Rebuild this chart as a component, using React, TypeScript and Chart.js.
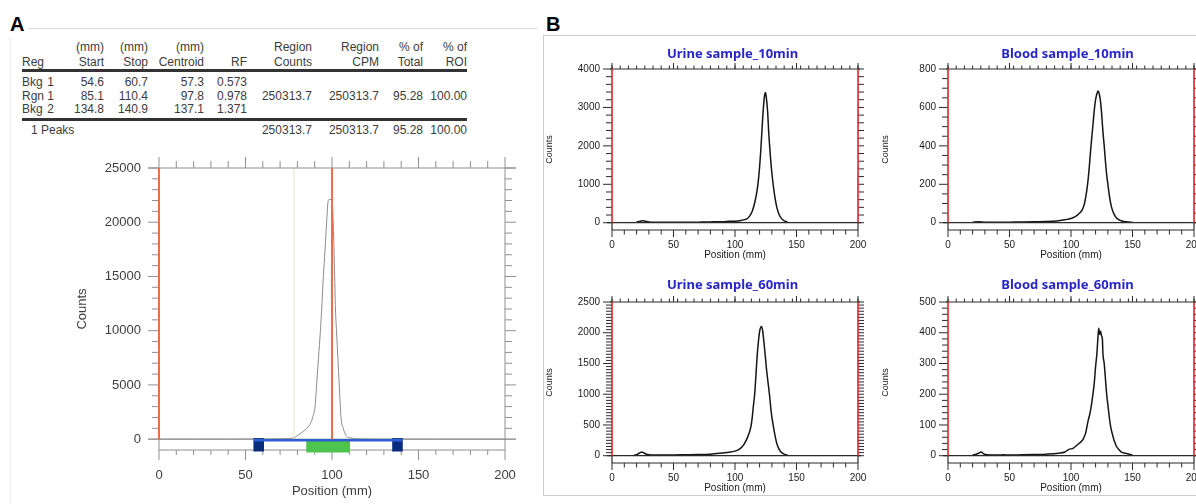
import React, { useEffect, useRef } from 'react';
import { Chart, registerables } from 'chart.js';

Chart.register(...registerables);

// ---------------- Panel A : ROI report table ----------------
const headerTop = ['', '(mm)', '(mm)', '(mm)', '', 'Region', 'Region', '% of', '% of'];
const headerBottom = ['Reg', 'Start', 'Stop', 'Centroid', 'RF', 'Counts', 'CPM', 'Total', 'ROI'];
const roiNames = ['Bkg', 'Rgn', 'Bkg'];
const roiIndex = ['1', '1', '2'];
const roiStart = [54.6, 85.1, 134.8];
const roiStop = [60.7, 110.4, 140.9];
const roiCentroid = [57.3, 97.8, 137.1];
const roiRF = [0.573, 0.978, 1.371];
const roiCounts = ['', '250313.7', ''];
const roiCPM = ['', '250313.7', ''];
const roiPctTotal = ['', '95.28', ''];
const roiPctROI = ['', '100.00', ''];
const peaksLabel = '1 Peaks';
const peaksTotals = ['250313.7', '250313.7', '95.28', '100.00'];

// ---------------- Panel A : radio-TLC scan ----------------
const posA = [0, 20, 40, 55, 65, 72, 77.5, 81.5, 85.4, 87.7, 89, 90.2, 91.1, 92.2, 93.3, 94.2, 95, 96, 96.9, 97.7, 98.5, 99.5, 100.2, 100.8, 101.4, 102, 102.6, 103.4, 104.2, 105.2, 106.5, 108, 110, 113, 117, 125, 140, 170, 200];
const cntA = [0, 0, 5, 10, 20, 50, 100, 500, 1000, 1500, 2100, 3000, 5000, 7500, 10000, 12500, 15000, 17500, 20000, 21900, 22100, 22100, 21600, 19500, 16000, 12000, 10000, 7500, 5000, 2000, 1000, 350, 150, 60, 20, 8, 3, 0, 0];
const yTicksA = [0, 5000, 10000, 15000, 20000, 25000];

// ---------------- Panel B : four scans ----------------
const posU10 = [20, 22, 25, 27, 30, 35, 40, 45, 50, 60, 70, 80, 85, 90, 95, 100, 105, 108, 110, 112, 114, 116, 118, 119, 120, 121, 122, 123, 124, 124.8, 125.5, 126.5, 127.5, 128.5, 129.5, 131, 132.5, 134, 136, 138, 140, 142, 143];
const cntU10 = [20, 30, 50, 40, 20, 10, 15, 10, 12, 10, 15, 20, 25, 25, 35, 40, 60, 80, 110, 180, 300, 520, 850, 1100, 1450, 1900, 2450, 2950, 3300, 3390, 3250, 2900, 2300, 1850, 1450, 1000, 650, 400, 200, 100, 50, 25, 5];
const yTicksU10 = [0, 1000, 2000, 3000, 4000];

const posB10 = [20, 25, 30, 40, 50, 60, 70, 80, 90, 95, 100, 103, 105, 107, 109, 110, 111, 112, 113, 114, 115, 116, 117, 118, 119, 120, 121, 122, 123, 124, 125, 126, 127, 128, 129, 130, 131, 132, 133, 134, 135, 137, 140, 143, 146, 150];
const cntB10 = [3, 5, 3, 2, 3, 4, 5, 6, 10, 15, 22, 30, 38, 50, 65, 80, 100, 135, 175, 230, 300, 380, 450, 520, 590, 640, 670, 685, 670, 630, 560, 470, 400, 320, 250, 200, 150, 110, 80, 60, 45, 25, 12, 6, 4, 2];
const yTicksB10 = [0, 200, 400, 600, 800];

const posU60 = [18, 20, 22, 24, 26, 28, 30, 35, 40, 50, 60, 70, 80, 85, 90, 95, 100, 103, 106, 108, 110, 112, 113, 114, 115, 116, 117, 118, 119, 120, 121.5, 122.5, 123.5, 124.5, 125.5, 126.5, 128, 129.5, 131, 132.5, 134, 136, 138, 140, 143];
const cntU60 = [10, 15, 40, 60, 45, 25, 15, 10, 10, 12, 15, 18, 25, 35, 45, 55, 75, 100, 150, 210, 290, 400, 480, 620, 820, 1000, 1300, 1620, 1850, 2020, 2100, 2030, 1850, 1650, 1430, 1250, 1000, 700, 500, 330, 200, 100, 50, 25, 5];
const yTicksU60 = [0, 500, 1000, 1500, 2000, 2500];

const posB60 = [20, 23, 25, 27, 29, 32, 40, 45, 50, 60, 70, 80, 90, 95, 98, 102, 105, 108, 110, 112, 113, 114, 115, 116, 117, 118, 119, 120, 121, 122, 122.6, 123.2, 124, 124.8, 125.5, 126, 127, 128, 129, 130, 131, 132, 133, 134, 135, 136, 137, 139, 141, 144, 148, 150];
const cntB60 = [2, 5, 8, 12, 6, 3, 2, 3, 2, 3, 4, 5, 8, 12, 20, 25, 35, 45, 55, 75, 95, 115, 130, 150, 175, 205, 240, 290, 330, 390, 415, 395, 405, 390, 380, 330, 300, 250, 200, 165, 130, 100, 80, 65, 50, 40, 30, 20, 12, 8, 4, 2];
const yTicksB60 = [0, 100, 200, 300, 400, 500];

const xTickLabels = [0, 50, 100, 150, 200];
const panelTitles = ['Urine sample_10min', 'Blood sample_10min', 'Urine sample_60min', 'Blood sample_60min'];

// ---------------- drawing helpers ----------------
const SANS = '"Liberation Sans", Arial, sans-serif';

const framePlugin = {
  id: 'frame',
  afterDatasetsDraw(chart: any, _a: any, o: any) {
    if (!o || !o.kind) return;
    const { ctx, chartArea: ca } = chart;
    const xs = chart.scales.x;
    const ys = chart.scales.y;
    const px = (v: number) => xs.getPixelForValue(v);
    const py = (v: number) => ys.getPixelForValue(v);
    const L = ca.left, R = ca.right, T = ca.top, B = ca.bottom, Z = py(0);
    const seg = (x1: number, y1: number, x2: number, y2: number, c: string, w: number) => {
      ctx.beginPath();
      ctx.strokeStyle = c;
      ctx.lineWidth = w;
      ctx.moveTo(x1, y1);
      ctx.lineTo(x2, y2);
      ctx.stroke();
    };
    const isLabel = (v: number) => (o.yLabels as number[]).some((l) => Math.abs(l - v) < 1e-6);
    ctx.save();
    if (o.kind === 'A') {
      const g = '#8f8f8f';
      seg(px(78), T, px(78), Z, '#efe4c0', 1);
      seg(L - 11, T, R + 11, T, g, 1);
      seg(L - 11, Z, R + 11, Z, g, 1);
      seg(L, T, L, B, g, 1);
      seg(R, T, R, B, g, 1);
      seg(L, B, R, B, g, 1);
      for (let v = 0; v <= o.yMax + 1e-6; v += o.yMinor) {
        const len = isLabel(v) ? 11 : 7;
        const y = py(v);
        seg(L - len, y, L, y, g, 1);
        seg(R, y, R + len, y, g, 1);
      }
      for (let v = 0; v <= 200; v += 10) {
        const major = v % 50 === 0;
        const x = px(v);
        seg(x, T - (major ? 11 : 7), x, T, g, 1);
        seg(x, B, x, B + (major ? 10 : 5), g, 1);
      }
      for (let i = 0; i < roiNames.length; i++) {
        const x1 = px(roiStart[i]);
        const x2 = px(roiStop[i]);
        if (roiNames[i] === 'Rgn') {
          ctx.fillStyle = '#4ec34e';
          ctx.fillRect(x1, Z + 1, x2 - x1, B - Z + 1.5);
        } else {
          ctx.fillStyle = '#0a2c7e';
          ctx.fillRect(x1, Z - 1, x2 - x1, B - Z + 2.5);
        }
      }
      seg(px(roiStart[0]), Z + 1.2, px(roiStop[roiStop.length - 1]), Z + 1.2, '#2d5fd4', 2.5);
      for (const r of o.redAt) seg(px(r), T, px(r), Z, '#f26b4f', 2);
    } else {
      const k = '#2a2a2a';
      seg(L - 5, Z, R + 3, Z, k, 1.2);
      seg(L - 2, T, R + 2, T, k, 1.2);
      seg(L, B, R, B, k, 1.2);
      seg(L, Z, L, B, k, 1.2);
      seg(R, Z, R, B, k, 1.2);
      for (let v = 0; v <= o.yMax + 1e-6; v += o.yMinor) {
        const len = isLabel(v) ? 9 : 6;
        const y = py(v);
        seg(L - len, y, L, y, k, 1);
        seg(R, y, R + 6, y, k, 1);
      }
      for (let i = 0; i <= 30; i++) {
        const x = px((200 * i) / 30);
        seg(x, T - 3.5, x, T, k, 1);
      }
      for (let v = 0; v <= 200; v += 50) {
        const x = px(v);
        seg(x, T - 6, x, T, k, 1);
      }
      for (let v = 0; v <= 200; v += 10) {
        const x = px(v);
        seg(x, B, x, B + (v % 50 === 0 ? 7 : 4.5), k, 1);
      }
      seg(L, T, L, Z, '#e02424', 1.6);
      seg(R, T, R, Z, '#e02424', 1.6);
    }
    ctx.restore();
  },
};

type PlotSpec = {
  kind: 'A' | 'B';
  pos: number[];
  cnt: number[];
  yMax: number;
  yLabels: number[];
  yMinor: number;
  left: number;
  top: number;
  width: number;
  height: number;
  padTop: number;
  padRight: number;
  yWidth: number;
  xHeight: number;
  lineColor: string;
  lineWidth: number;
  tickSize: number;
  tickColor: string;
  xTitleSize: number;
  yTitleSize: number;
  yTickPad: number;
  xTickPad: number;
  xTitlePad: number;
  yTitlePad: number;
  redAt: number[];
};

function makeConfig(s: PlotSpec): any {
  const data = s.pos.map((x, i) => ({ x, y: s.cnt[i] }));
  const frac = s.kind === 'A' ? 0.04 : 0.0474;
  return {
    type: 'scatter',
    data: {
      datasets: [
        {
          data,
          showLine: true,
          borderColor: s.lineColor,
          borderWidth: s.lineWidth,
          pointRadius: 0,
          pointHoverRadius: 0,
          cubicInterpolationMode: 'monotone',
          fill: false,
        },
      ],
    },
    options: {
      responsive: false,
      animation: false,
      devicePixelRatio: 1,
      events: [],
      layout: { padding: { top: s.padTop, right: s.padRight, left: 0, bottom: 0 } },
      plugins: {
        legend: { display: false },
        tooltip: { enabled: false },
        frame: { kind: s.kind, yMax: s.yMax, yMinor: s.yMinor, yLabels: s.yLabels, redAt: s.redAt },
      },
      scales: {
        x: {
          type: 'linear',
          position: 'bottom',
          min: 0,
          max: 200,
          afterBuildTicks: (sc: any) => {
            sc.ticks = xTickLabels.map((v) => ({ value: v }));
          },
          afterFit: (sc: any) => {
            sc.height = s.xHeight;
            sc.paddingLeft = 0;
            sc.paddingRight = 0;
            sc.paddingTop = 0;
            sc.paddingBottom = 0;
          },
          grid: { display: false, drawTicks: false },
          border: { display: false },
          ticks: {
            padding: s.xTickPad,
            color: s.tickColor,
            font: { family: SANS, size: s.tickSize },
            maxRotation: 0,
            autoSkip: false,
            callback: (v: any) => String(v),
          },
          title: {
            display: true,
            text: 'Position (mm)',
            color: s.tickColor,
            font: { family: SANS, size: s.xTitleSize },
            padding: { top: 0, bottom: s.xTitlePad },
          },
        },
        y: {
          type: 'linear',
          min: -s.yMax * frac,
          max: s.yMax,
          afterBuildTicks: (sc: any) => {
            sc.ticks = s.yLabels.map((v) => ({ value: v }));
          },
          afterFit: (sc: any) => {
            sc.width = s.yWidth;
            sc.paddingLeft = 0;
            sc.paddingRight = 0;
            sc.paddingTop = 0;
            sc.paddingBottom = 0;
          },
          grid: { display: false, drawTicks: false },
          border: { display: false },
          ticks: {
            padding: s.yTickPad,
            color: s.tickColor,
            font: { family: SANS, size: s.tickSize },
            autoSkip: false,
            callback: (v: any) => String(v),
          },
          title: {
            display: true,
            text: 'Counts',
            color: s.tickColor,
            font: { family: SANS, size: s.yTitleSize },
            padding: { top: s.yTitlePad, bottom: 0 },
          },
        },
      },
    },
    plugins: [framePlugin],
  };
}

const specA: PlotSpec = {
  kind: 'A', pos: posA, cnt: cntA, yMax: 25000, yLabels: yTicksA, yMinor: 1000,
  left: 60, top: 140, width: 470, height: 364, padTop: 28, padRight: 25, yWidth: 99, xHeight: 54,
  lineColor: '#8a8a8a', lineWidth: 1, tickSize: 13, tickColor: '#3d3d3d', xTitleSize: 13, yTitleSize: 13,
  yTickPad: 18, xTickPad: 18, xTitlePad: 5, yTitlePad: 15, redAt: [0, 100],
};

const bBase = {
  kind: 'B' as const, width: 328, height: 222, padTop: 30, padRight: 14, yWidth: 68, xHeight: 31,
  lineColor: '#151515', lineWidth: 1.5, tickSize: 10, tickColor: '#1a1a1a', xTitleSize: 10, yTitleSize: 9,
  yTickPad: 12, xTickPad: 9.5, xTitlePad: 0, yTitlePad: 0, redAt: [0, 200],
};

const specsB: PlotSpec[] = [
  { ...bBase, pos: posU10, cnt: cntU10, yMax: 4000, yLabels: yTicksU10, yMinor: 200, left: 544, top: 39 },
  { ...bBase, pos: posB10, cnt: cntB10, yMax: 800, yLabels: yTicksB10, yMinor: 50, left: 880, top: 39 },
  { ...bBase, pos: posU60, cnt: cntU60, yMax: 2500, yLabels: yTicksU60, yMinor: 50, left: 544, top: 272 },
  { ...bBase, pos: posB60, cnt: cntB60, yMax: 500, yLabels: yTicksB60, yMinor: 20, left: 880, top: 272 },
];
const titleCenters = [
  { x: 732.5, y: 52.5 },
  { x: 1067.5, y: 52.5 },
  { x: 732.5, y: 283.5 },
  { x: 1067.5, y: 283.5 },
];

function PlotCanvas({ spec }: { spec: PlotSpec }) {
  const ref = useRef<HTMLCanvasElement>(null);
  useEffect(() => {
    const chart = new Chart(ref.current as HTMLCanvasElement, makeConfig(spec));
    return () => chart.destroy();
  }, [spec]);
  return (
    <canvas
      ref={ref}
      width={spec.width}
      height={spec.height}
      style={{ position: 'absolute', left: spec.left, top: spec.top, width: spec.width, height: spec.height }}
    />
  );
}

// ---------------- table layout ----------------
const colRight = [0, 104, 148, 204, 247, 312, 379, 423, 467];
const TEXT = '#3c3c3c';

function Txt({ x, y, right, children }: { x: number; y: number; right?: boolean; children: React.ReactNode }) {
  const base: React.CSSProperties = {
    position: 'absolute',
    top: y - 7,
    lineHeight: '14px',
    height: 14,
    whiteSpace: 'nowrap',
    fontSize: 12,
    color: TEXT,
    fontFamily: SANS,
  };
  if (right) base.right = 1196 - x;
  else base.left = x;
  return <div style={base}>{children}</div>;
}

function RoiTable() {
  const rowsY = [82, 95.5, 108.5];
  const cells: React.ReactNode[] = [];
  headerTop.forEach((h, c) => {
    if (h) cells.push(<Txt key={'ht' + c} x={colRight[c]} y={47} right>{h}</Txt>);
  });
  headerBottom.forEach((h, c) => {
    if (c === 0) cells.push(<Txt key="hb0" x={22} y={61.5}>{h}</Txt>);
    else cells.push(<Txt key={'hb' + c} x={colRight[c]} y={61.5} right>{h}</Txt>);
  });
  roiNames.forEach((n, i) => {
    const y = rowsY[i];
    const vals = [
      roiStart[i].toFixed(1),
      roiStop[i].toFixed(1),
      roiCentroid[i].toFixed(1),
      roiRF[i].toFixed(3),
      roiCounts[i],
      roiCPM[i],
      roiPctTotal[i],
      roiPctROI[i],
    ];
    cells.push(<Txt key={'n' + i} x={22} y={y}>{n}</Txt>);
    cells.push(<Txt key={'ix' + i} x={54} y={y} right>{roiIndex[i]}</Txt>);
    vals.forEach((v, c) => {
      if (v) cells.push(<Txt key={'v' + i + '-' + c} x={colRight[c + 1]} y={y} right>{v}</Txt>);
    });
  });
  cells.push(<Txt key="pk" x={31} y={130}>{peaksLabel}</Txt>);
  peaksTotals.forEach((v, c) => {
    cells.push(<Txt key={'pt' + c} x={colRight[c + 5]} y={130} right>{v}</Txt>);
  });
  return (
    <>
      {cells}
      <div style={{ position: 'absolute', left: 22, top: 69, width: 445, height: 3, background: '#333' }} />
      <div style={{ position: 'absolute', left: 22, top: 118, width: 445, height: 3, background: '#333' }} />
    </>
  );
}

const letterStyle = (left: number): React.CSSProperties => ({
  position: 'absolute',
  left,
  top: 13.6,
  fontFamily: SANS,
  fontWeight: 'bold',
  fontSize: 20,
  lineHeight: '20px',
  color: '#000',
});

export default function App() {
  return (
    <div
      style={{
        position: 'fixed',
        left: 0,
        top: 0,
        width: 1196,
        height: 504,
        overflow: 'hidden',
        background: '#fff',
        fontFamily: SANS,
      }}
    >
      <div style={{ position: 'absolute', left: 28, top: 28, width: 510, height: 1, background: '#dcdcdc' }} />
      <div style={{ position: 'absolute', left: 10, top: 38, width: 1, height: 466, background: '#eeeeee' }} />
      <div style={letterStyle(10)}>A</div>
      <div style={letterStyle(546)}>B</div>
      <RoiTable />
      <PlotCanvas spec={specA} />
      <div
        style={{
          position: 'absolute',
          left: 543,
          top: 35,
          width: 700,
          height: 459,
          border: '1px solid #cdcdcd',
        }}
      />
      {specsB.map((s, i) => (
        <PlotCanvas key={i} spec={s} />
      ))}
      {panelTitles.map((t, i) => (
        <div
          key={t}
          style={{
            position: 'absolute',
            left: titleCenters[i].x - 100,
            top: titleCenters[i].y - 9,
            width: 200,
            height: 18,
            lineHeight: '18px',
            textAlign: 'center',
            fontFamily: '"Noto Sans", sans-serif',
            fontWeight: 'bold',
            fontSize: 13,
            color: '#2626c8',
          }}
        >
          {t}
        </div>
      ))}
    </div>
  );
}
